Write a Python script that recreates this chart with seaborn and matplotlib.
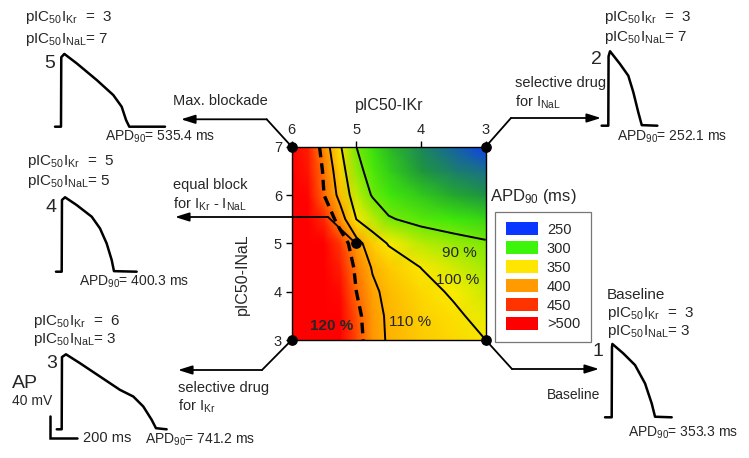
import numpy as np
import matplotlib
matplotlib.use("Agg")
import matplotlib.pyplot as plt
from matplotlib.colors import LinearSegmentedColormap, Normalize
from matplotlib.patches import Patch
import seaborn as sns

# ---------------- data ----------------
pic50_ikr = [3.0, 3.5, 4.0, 4.5, 4.75, 5.0, 5.25, 5.5, 5.75, 6.0]
pic50_inal = [3.0, 3.5, 4.0, 4.5, 5.0, 5.5, 6.0, 6.5, 7.0]
# APD90 (ms); rows follow pic50_inal (3 -> 7), columns follow pic50_ikr (3 -> 6)
apd_row_30 = [353.3, 362, 371, 385, 402, 440, 520, 600, 675, 741.2]
apd_row_35 = [345, 358, 368, 384, 400, 435, 505, 580, 650, 705]
apd_row_40 = [338, 350, 362, 380, 395, 424, 490, 555, 620, 670]
apd_row_45 = [330, 340, 353, 372, 386, 415, 470, 530, 590, 640]
apd_row_50 = [321, 327, 334, 351, 370, 400.3, 448, 505, 560, 610]
apd_row_55 = [300, 305, 311, 320, 335, 353, 405, 460, 520, 585]
apd_row_60 = [280, 287, 296, 306, 316, 336, 378, 424, 495, 565]
apd_row_65 = [265, 272, 282, 298, 309, 325, 367, 418, 480, 550]
apd_row_70 = [252.1, 262, 275, 292, 303, 318, 356, 406, 470, 535.4]

baseline_apd = 353.3
contour_percent = [90, 100, 110, 120]
contour_label_text = ["90 %", "100 %", "110 %", "120 %"]

legend_values = ["250", "300", "350", "400", "450", ">500"]
legend_colors = ["#0a37ff", "#3cf50a", "#ffe600", "#ff9a00", "#ff3300", "#ff0000"]

# simulated drugs (point number, pIC50 IKr, pIC50 INaL, APD90)
drug_id = ["1", "2", "3", "4", "5"]
drug_ikr = [3, 3, 6, 5, 6]
drug_inal = [3, 7, 3, 5, 7]
drug_apd = [353.3, 252.1, 741.2, 400.3, 535.4]

# action potential traces (time ms, voltage mV)
ap1_t = [-50, 0, 2, 5, 87, 175, 250, 300, 325, 450]
ap1_v = [-85, -85, 41, 47, 30, 9, -24, -60, -84, -85]
ap2_t = [-50, 0, 2, 13, 88, 150, 188, 225, 251, 368]
ap2_v = [-85, -85, 40, 49, 26, 5, -25, -61, -84, -85]
ap3_t = [-37, 0, 2, 32, 137, 287, 437, 537, 612, 675, 707, 787]
ap3_v = [-85, -85, 45, 50, 34, 10, -14, -26, -44, -68, -83, -85]
ap4_t = [-43, 0, 2, 25, 112, 225, 287, 337, 375, 392, 562]
ap4_v = [-85, -85, 44, 49, 35, 14, -7, -34, -64, -84, -85]
ap5_t = [-45, 0, 2, 25, 118, 268, 392, 455, 488, 512, 780]
ap5_v = [-85, -85, 40, 46, 29, -1, -28, -49, -73, -85, -85]

# ---------------- style ----------------
sns.set_theme(style="white")
plt.rcParams["font.family"] = ["Liberation Sans", "DejaVu Sans"]
plt.rcParams["mathtext.fontset"] = "custom"
plt.rcParams["mathtext.rm"] = "Liberation Sans"
plt.rcParams["mathtext.it"] = "Liberation Sans"
plt.rcParams["mathtext.bf"] = "Liberation Sans:bold"

W, H = 749, 458
fig = plt.figure(figsize=(W / 100, H / 100), dpi=100)
fig.patch.set_facecolor("white")

def fig_rect(x0, y0, x1, y1):
    return [x0 / W, 1 - y1 / H, (x1 - x0) / W, (y1 - y0) / H]

# ---------------- main map ----------------
ax = fig.add_axes(fig_rect(291.7, 146.7, 485.7, 340))
grid = np.array([apd_row_30, apd_row_35, apd_row_40, apd_row_45, apd_row_50,
                 apd_row_55, apd_row_60, apd_row_65, apd_row_70])
X, Y = np.meshgrid(pic50_ikr, pic50_inal)
cmap = LinearSegmentedColormap.from_list(
    "apd",
    [(0.0, "#0a37ff"), (0.06, "#1a6f8a"), (0.13, "#1f9a35"), (0.22, "#3ee80a"),
     (0.4, "#fbec00"), (0.6, "#ff9a00"), (0.8, "#ff3300"), (1.0, "#ff0000")])
norm = Normalize(vmin=250, vmax=500, clip=True)
ax.pcolormesh(X, Y, grid, cmap=cmap, norm=norm, shading="gouraud", zorder=1)

levels = [baseline_apd * p / 100 for p in contour_percent]
ax.contour(X, Y, grid, levels=levels[:3], colors="black", linewidths=1.4, zorder=3)
ax.contour(X, Y, grid, levels=[levels[3]], colors="black", linewidths=2.4,
           linestyles=[(0, (3.2, 1.8))], zorder=3)

ax.set_xlim(6, 3)
ax.set_ylim(3, 7)
ax.set_xticks([6, 5, 4, 3])
ax.set_yticks([3, 4, 5, 6, 7])
ax.xaxis.tick_top()
ax.xaxis.set_label_position("top")
ax.tick_params(axis="both", which="both", direction="out", length=4, width=1,
               color="black", labelsize=10.5, pad=3,
               top=True, bottom=False, left=True, right=False)
ax.set_xlabel("pIC50-IKr", fontsize=11.5, labelpad=9)
ax.set_ylabel("pIC50-INaL", fontsize=11.5)
ax.yaxis.set_label_coords(-0.215, 0.34)
for s in ax.spines.values():
    s.set_color("black")
    s.set_linewidth(1.0)

ax.scatter(drug_ikr, drug_inal, s=45, color="black", zorder=10, clip_on=False)

ax.text(3.40, 4.80, contour_label_text[0], fontsize=11, ha="center", va="center")
ax.text(3.44, 4.24, contour_label_text[1], fontsize=11, ha="center", va="center")
ax.text(4.17, 3.37, contour_label_text[2], fontsize=11, ha="center", va="center")
ax.text(5.38, 3.29, contour_label_text[3], fontsize=11, ha="center", va="center",
        fontweight="bold")

# ---------------- legend ----------------
handles = [Patch(facecolor=c, edgecolor="none") for c in legend_colors]
leg = fig.legend(handles, legend_values, loc="upper left",
                 bbox_to_anchor=(495 / W, 1 - 211.5 / H), fontsize=10.5,
                 handlelength=2.2, handleheight=1.0, labelspacing=0.3,
                 handletextpad=0.6, borderpad=0.75, borderaxespad=0.0,
                 fancybox=False, frameon=True)
leg.get_frame().set_edgecolor("#555555")
leg.get_frame().set_linewidth(0.9)

# ---------------- AP insets ----------------
MS_PER_PX, MV_PER_PX = 7.5, 1.8
T0, T1, V0, V1 = -100, 820, -105, 60

def ap_axes(up_px, base_py):
    left = up_px + T0 / MS_PER_PX
    right = up_px + T1 / MS_PER_PX
    bottom = base_py + (-85 - V0) / MV_PER_PX
    top = base_py - (V1 + 85) / MV_PER_PX
    a = fig.add_axes(fig_rect(left, top, right, bottom))
    a.set_xlim(T0, T1)
    a.set_ylim(V0, V1)
    a.set_axis_off()
    a.patch.set_alpha(0)
    return a

ap_sets = [(ap1_t, ap1_v, 611.7, 417.3), (ap2_t, ap2_v, 608.3, 125.7),
           (ap3_t, ap3_v, 61.7, 429.3), (ap4_t, ap4_v, 61.7, 271.7),
           (ap5_t, ap5_v, 61.0, 126.7)]
ap_axes_list = []
for t, v, ux, by in ap_sets:
    a = ap_axes(ux, by)
    sns.lineplot(x=t, y=v, ax=a, color="black", linewidth=1.8, sort=False,
                 estimator=None)
    ap_axes_list.append(a)

# scale bar next to AP 3
a3 = ap_axes_list[2]
a3.plot([-88, -88, 112], [-61, -101, -101], color="black", lw=1.8,
        solid_joinstyle="miter")

# ---------------- overlay: arrows & texts ----------------
ov = fig.add_axes([0, 0, 1, 1])
ov.set_xlim(0, W)
ov.set_ylim(H, 0)
ov.set_axis_off()
ov.patch.set_alpha(0)

def arrow(start, bend, end):
    ov.plot([start[0], bend[0]], [start[1], bend[1]], color="black", lw=1.3)
    ov.annotate("", xy=end, xytext=bend,
                arrowprops=dict(arrowstyle="-|>,head_length=0.7,head_width=0.22",
                                color="black", lw=1.3, shrinkA=0, shrinkB=0))

arrow((291.7, 146.7), (266.7, 119.3), (181, 119.3))
arrow((485.7, 146.7), (511, 118), (601, 118))
arrow((485.7, 340), (512, 369), (599, 369))
arrow((291.7, 340), (262, 370), (178, 370))
arrow((356.7, 244.3), (328, 217), (175, 217))

fs = 10.5
def txt(x, y, s, size=fs, **kw):
    kw.setdefault("ha", "left")
    ov.text(x, y, s, fontsize=size, va="center", **kw)

txt(173, 101, "Max. blockade")
txt(515, 83, "selective drug")
txt(515, 102, r"for I$_{\mathrm{NaL}}$")
txt(173, 185, "equal block")
txt(173, 204, r"for I$_{\mathrm{Kr}}$ - I$_{\mathrm{NaL}}$")
txt(178, 388, "selective drug")
txt(178, 406, r"for I$_{\mathrm{Kr}}$")
txt(600, 395, "Baseline", 10, ha="right")

ov.text(490, 196, r"APD$_{90}$ (ms)", fontsize=12, ha="left", va="center")

def ikr_txt(v):
    return r"pIC$_{50}$I$_{\mathrm{Kr}}$  =  " + v

def inal_txt(v):
    return r"pIC$_{50}$I$_{\mathrm{NaL}}$= " + v

def apd_txt(v):
    return r"APD$_{90}$= " + f"{v} ms"

# AP 5 (top left)
txt(25, 18, ikr_txt("3"), 11)
txt(25, 39, inal_txt("7"), 11)
txt(44, 63, drug_id[4], 14)
txt(105, 137, apd_txt(drug_apd[4]), 10)
# AP 2 (top right)
txt(604, 17, ikr_txt("3"), 11)
txt(604, 37, inal_txt("7"), 11)
txt(591, 60, drug_id[1], 14)
txt(617, 137, apd_txt(drug_apd[1]), 10)
# AP 1 (bottom right)
txt(607, 295, "Baseline", 11)
txt(607, 313, ikr_txt("3"), 11)
txt(607, 332, inal_txt("3"), 11)
txt(593, 352, drug_id[0], 14)
txt(628, 433, apd_txt(drug_apd[0]), 10)
# AP 4 (middle left)
txt(27, 162, ikr_txt("5"), 11)
txt(27, 182, inal_txt("5"), 11)
txt(46, 207, drug_id[3], 14)
txt(79, 282, apd_txt(drug_apd[3]), 10)
# AP 3 (bottom left)
txt(33, 322, ikr_txt("6"), 11)
txt(33, 340, inal_txt("3"), 11)
txt(46, 363, drug_id[2], 14)
txt(12, 384, "AP", 14)
txt(12, 401, "40 mV", 10)
txt(83, 438, "200 ms", 10.5)
txt(145, 440, apd_txt(drug_apd[2]), 10)

fig.savefig("out.png", dpi=100)
